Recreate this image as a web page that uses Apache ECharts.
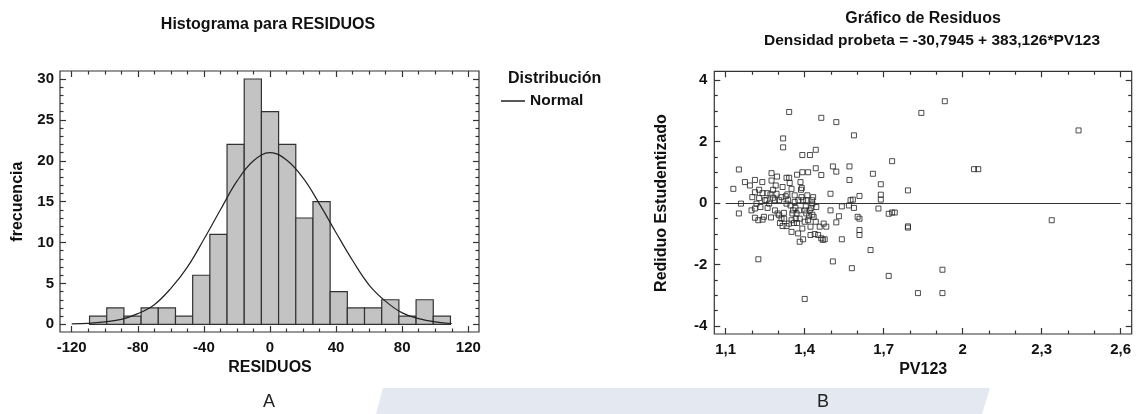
<!DOCTYPE html>
<html>
<head>
<meta charset="utf-8">
<script src="https://cdn.jsdelivr.net/npm/echarts@6/dist/echarts.min.js"></script>
<style>
html, body { margin: 0; padding: 0; background: #fff; }
#main { width: 1136px; height: 414px; }
</style>
</head>
<body>
<div id="main"></div>
<script>
var myChart = echarts.init(document.getElementById('main'));

var FONT = "'Liberation Sans', Arial, sans-serif";

// --- histograma de residuos ---
var binEdges = [-109.2, -98.8, -88.4, -78, -67.6, -57.2, -46.8, -36.4, -26, -15.6, -5.2,
    5.2, 15.6, 26, 36.4, 46.8, 57.2, 67.6, 78, 88.4, 98.8, 109.2];
var binCounts = [1, 2, 1, 2, 2, 1, 6, 11, 22, 30, 26, 22, 13, 15, 4, 2, 2, 3, 1, 3, 1];

// curva normal ajustada
var curveX = [-120, -110, -100, -90, -80, -70, -60, -50, -40, -30, -20, -10, 0,
    10, 20, 30, 40, 50, 60, 70, 80, 90, 100, 110];
var curveY = [0.05, 0.12, 0.3, 0.6, 1.3, 2.4, 4.4, 7.0, 10.4, 14.0, 17.5, 20.0, 21.0,
    20.1, 17.9, 14.7, 11.2, 7.8, 4.8, 2.8, 1.4, 0.7, 0.3, 0.1];

// --- residuos studentizados vs PV123 ---
var pv123 = [1.129, 1.150, 1.150, 1.158, 1.173, 1.192, 1.201, 1.211, 1.211, 1.211,
    1.211, 1.224, 1.227, 1.232, 1.239, 1.240, 1.240, 1.245, 1.258, 1.259,
    1.272, 1.274, 1.274, 1.280, 1.280, 1.287, 1.290, 1.295, 1.303, 1.306,
    1.312, 1.316, 1.318, 1.318, 1.321, 1.328, 1.331, 1.331, 1.334, 1.341,
    1.341, 1.343, 1.346, 1.350, 1.350, 1.350, 1.353, 1.359, 1.362, 1.365,
    1.366, 1.371, 1.371, 1.379, 1.381, 1.384, 1.386, 1.389, 1.391, 1.391,
    1.391, 1.394, 1.394, 1.400, 1.400, 1.404, 1.406, 1.410, 1.413, 1.417,
    1.419, 1.420, 1.422, 1.422, 1.425, 1.428, 1.429, 1.432, 1.438, 1.442,
    1.442, 1.442, 1.444, 1.451, 1.457, 1.463, 1.463, 1.463, 1.469, 1.472,
    1.476, 1.482, 1.498, 1.498, 1.507, 1.507, 1.520, 1.520, 1.520, 1.530,
    1.541, 1.541, 1.568, 1.570, 1.570, 1.574, 1.579, 1.583, 1.587, 1.587,
    1.601, 1.608, 1.608, 1.608, 1.608, 1.650, 1.659, 1.680, 1.224, 1.227,
    1.249, 1.270, 1.287, 1.297, 1.303, 1.312, 1.322, 1.337, 1.340, 1.356,
    1.362, 1.369, 1.376, 1.381, 1.388, 1.400, 1.406, 1.413, 1.429, 1.434,
    1.375, 1.255, 1.265, 1.217, 1.198, 1.293, 1.316, 1.331, 1.932, 1.843,
    2.440, 1.732, 2.043, 2.059, 1.689, 1.689, 1.689, 1.792, 1.719, 1.732,
    1.742, 1.792, 1.792, 2.338, 1.719, 1.923, 1.830, 1.923];
var residuos = [0.46, 1.09, -0.34, -0.02, 0.68, 0.57, 0.19, 0.75, 0.35, -0.18,
    -0.48, -1.83, 0.16, -0.13, 0.68, 0.32, -0.54, -0.45, 0.32, -0.16,
    -0.47, 0.97, 0.73, 0.43, 0.17, 0.09, 0.57, 0.86, -0.40, -0.65,
    0.19, -0.75, 2.10, 1.81, -0.32, 0.22, -0.75, 0.82, 0.28, 2.96,
    0.82, 0.65, -0.08, 0.46, -0.56, -0.94, -0.34, -0.65, 0.03, -0.16,
    -0.51, -0.65, 0.92, -0.24, -1.26, 0.68, 0.43, 0.49, 1.56, 1.00,
    -0.83, -1.18, 0.09, -3.12, -0.61, -0.11, 0.09, 0.25, 1.00, -0.43,
    -0.24, 1.56, -0.77, -1.04, -0.16, 0.09, -0.38, 0.19, -1.01, 1.73,
    1.13, -0.61, -0.13, -1.04, -0.77, 2.77, 0.91, -1.15, -1.20, -0.67,
    -1.18, -0.77, 0.30, -0.24, 1.19, -1.90, 2.63, 1.02, -0.63, -0.43,
    -0.11, -1.18, -0.08, 1.19, 0.75, 0.09, -2.12, 0.11, 2.20, -0.16,
    -0.45, -0.51, 0.23, -0.88, -1.04, -1.53, 0.95, -0.18, -0.56, 0.43,
    0.09, 0.28, -0.24, -0.34, 0.09, -0.51, -0.51, 0.09, -0.67, -0.24,
    0.25, -0.34, 0.09, -0.51, 0.19, -0.24, -0.34, -0.56, -0.02, -0.45,
    -0.99, 0.09, -0.02, -0.02, -0.24, 0.30, 0.52, -0.02, 3.31, 2.93,
    2.36, 1.36, 1.10, 1.10, 0.61, 0.27, 0.11, 0.41, -0.35, -0.31,
    -0.31, -0.76, -0.80, -0.56, -2.37, -2.17, -2.93, -2.93];

var bars = [];
for (var i = 0; i < binCounts.length; i++) {
    bars.push([binEdges[i], binEdges[i + 1], binCounts[i]]);
}
var curve = [];
for (var i = 0; i < curveX.length; i++) {
    curve.push([curveX[i], curveY[i]]);
}
var points = [];
for (var i = 0; i < pv123.length; i++) {
    points.push([pv123[i], residuos[i]]);
}

var nameStyle = { color: '#111', fontFamily: FONT, fontWeight: 'bold', fontSize: 16 };

// eje con marcas hacia dentro, desplazado hasta el marco
function tickAxis(grid, pos, min, max, interval, minorSplit, offset, withLabels) {
    return {
        type: 'value', gridIndex: grid, position: pos, offset: offset,
        min: min, max: max, interval: interval,
        axisLine: { show: false, onZero: false },
        axisTick: { show: true, inside: true, length: 6, lineStyle: { color: '#333', width: 1.2 } },
        minorTick: { show: true, splitNumber: minorSplit, length: 3.5, lineStyle: { color: '#333', width: 1.2 } },
        splitLine: { show: false },
        minorSplitLine: { show: false },
        axisLabel: { show: withLabels, margin: 7, showMinLabel: true, showMaxLabel: true,
            color: '#111', fontFamily: FONT, fontWeight: 'bold', fontSize: 15 }
    };
}

var frameStyle = { show: true, borderColor: '#333', borderWidth: 1.2, backgroundColor: 'transparent' };

var xHist = tickAxis(1, 'bottom', -120, 120, 40, 4, 7.7, true);
xHist.axisLabel.margin = 8;
xHist.name = 'RESIDUOS';
xHist.nameLocation = 'middle';
xHist.nameGap = 27;
xHist.nameTextStyle = nameStyle;

var yHist = tickAxis(1, 'left', 0, 30, 5, 5, 11.7, true);
yHist.axisLabel.margin = 6;
yHist.name = 'frecuencia';
yHist.nameLocation = 'middle';
yHist.nameGap = 34;
yHist.nameTextStyle = nameStyle;

var xRes = tickAxis(3, 'bottom', 1.1, 2.6, 0.3, 3, 8, true);
xRes.axisLabel.margin = 8;
xRes.axisLabel.formatter = function (v) {
    return String(Math.round(v * 10) / 10).replace('.', ',');
};
xRes.name = 'PV123';
xRes.nameLocation = 'middle';
xRes.nameGap = 27;
xRes.nameTextStyle = nameStyle;

var yRes = tickAxis(3, 'left', -4, 4, 2, 4, 11.4, true);
yRes.axisLabel.margin = 7;
yRes.name = 'Rediduo Estudentizado';
yRes.nameLocation = 'middle';
yRes.nameGap = 45;
yRes.nameTextStyle = nameStyle;

option = {
    animation: false,
    backgroundColor: '#fff',
    grid: [
        Object.assign({ left: 60, top: 71, width: 419, height: 261 }, frameStyle),
        { left: 71.7, top: 79, width: 396.6, height: 245.3 },
        Object.assign({ left: 714.3, top: 71.3, width: 417.4, height: 262.7 }, frameStyle),
        { left: 725.7, top: 80, width: 395, height: 246 }
    ],
    xAxis: [
        { type: 'value', gridIndex: 0, show: false, min: 0, max: 1 },
        xHist,
        tickAxis(1, 'top', -120, 120, 40, 4, 8, false),
        { type: 'value', gridIndex: 2, show: false, min: 0, max: 1 },
        xRes,
        tickAxis(3, 'top', 1.1, 2.6, 0.3, 3, 8.7, false)
    ],
    yAxis: [
        { type: 'value', gridIndex: 0, show: false, min: 0, max: 1 },
        yHist,
        tickAxis(1, 'right', 0, 30, 5, 5, 10.7, false),
        { type: 'value', gridIndex: 2, show: false, min: 0, max: 1 },
        yRes,
        tickAxis(3, 'right', -4, 4, 2, 4, 11, false)
    ],
    legend: {
        data: ['Normal'],
        left: 496, top: 88,
        icon: 'rect', itemWidth: 24, itemHeight: 1.5,
        selectedMode: false,
        textStyle: { color: '#111', fontFamily: FONT, fontWeight: 'bold', fontSize: 15.5 }
    },
    graphic: [
        { type: 'polygon', silent: true, z: -10,
          shape: { points: [[383, 388], [990, 388], [982, 414], [376, 414]] },
          style: { fill: '#e4e8f1' } },
        { type: 'text', x: 268, y: 25, style: { text: 'Histograma para RESIDUOS', align: 'center', verticalAlign: 'middle',
            fill: '#111', font: 'bold 16px ' + FONT } },
        { type: 'text', x: 923, y: 19, style: { text: 'Gráfico de Residuos', align: 'center', verticalAlign: 'middle',
            fill: '#111', font: 'bold 16px ' + FONT } },
        { type: 'text', x: 932, y: 41, style: { text: 'Densidad probeta = -30,7945 + 383,126*PV123', align: 'center',
            verticalAlign: 'middle', fill: '#111', font: 'bold 15.5px ' + FONT } },
        { type: 'text', x: 508, y: 79, style: { text: 'Distribución', align: 'left', verticalAlign: 'middle',
            fill: '#111', font: 'bold 16px ' + FONT } },
        { type: 'text', x: 269, y: 402, style: { text: 'A', align: 'center', verticalAlign: 'middle',
            fill: '#222', font: '18px ' + FONT } },
        { type: 'text', x: 823, y: 402, style: { text: 'B', align: 'center', verticalAlign: 'middle',
            fill: '#222', font: '18px ' + FONT } }
    ],
    series: [{
        name: 'frecuencia',
        type: 'custom',
        xAxisIndex: 1,
        yAxisIndex: 1,
        data: bars,
        encode: { x: [0, 1], y: 2 },
        renderItem: function (params, api) {
            var p0 = api.coord([api.value(0), api.value(2)]);
            var p1 = api.coord([api.value(1), 0]);
            return {
                type: 'rect',
                shape: { x: p0[0], y: p0[1], width: p1[0] - p0[0], height: p1[1] - p0[1] },
                style: { fill: '#c3c3c3', stroke: '#333', lineWidth: 1.2 }
            };
        }
    }, {
        name: 'Normal',
        type: 'line',
        xAxisIndex: 1,
        yAxisIndex: 1,
        data: curve,
        smooth: 0.4,
        symbol: 'none',
        z: 5,
        itemStyle: { color: '#222' },
        lineStyle: { color: '#222', width: 1.2 }
    }, {
        name: 'residuos',
        type: 'scatter',
        xAxisIndex: 4,
        yAxisIndex: 4,
        data: points,
        symbol: 'rect',
        symbolSize: 5,
        itemStyle: { color: 'rgba(255,255,255,0)', borderColor: '#222', borderWidth: 1 },
        markLine: {
            silent: true,
            symbol: ['none', 'none'],
            label: { show: false },
            lineStyle: { color: '#333', type: 'solid', width: 1.2 },
            data: [{ yAxis: 0 }]
        }
    }]
};

myChart.setOption(option);
</script>
</body>
</html>
